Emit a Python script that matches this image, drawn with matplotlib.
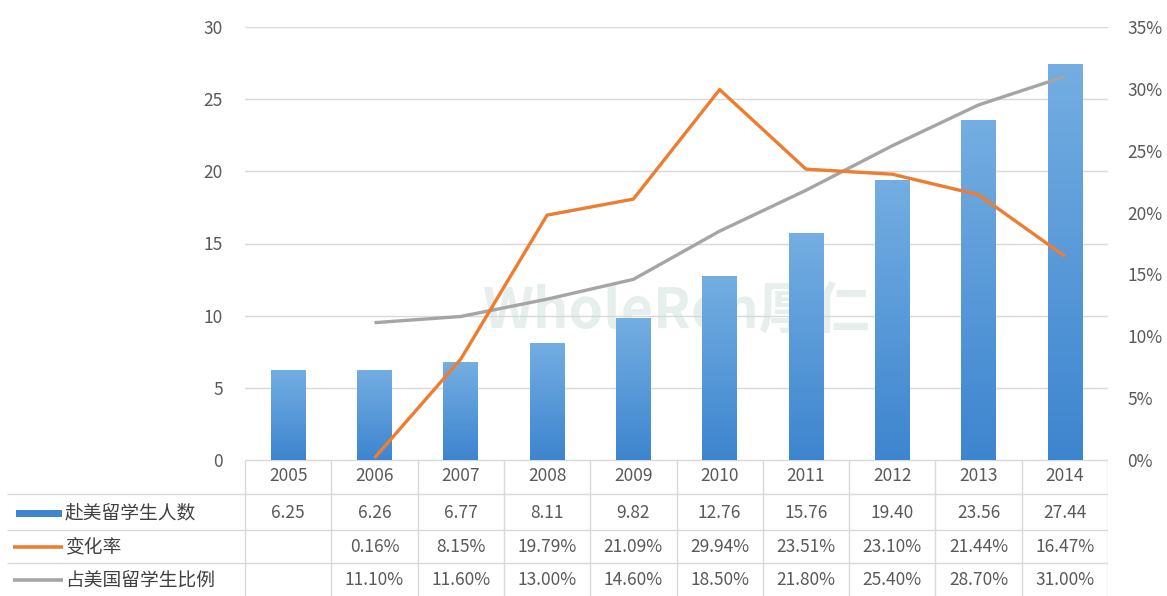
import matplotlib
matplotlib.use("Agg")
import matplotlib.pyplot as plt
import numpy as np
from matplotlib.colors import LinearSegmentedColormap
from matplotlib.ticker import FuncFormatter

plt.rcParams['font.family'] = ['Noto Sans CJK SC', 'DejaVu Sans']

years = ['2005', '2006', '2007', '2008', '2009', '2010', '2011', '2012', '2013', '2014']
students = [6.25, 6.26, 6.77, 8.11, 9.82, 12.76, 15.76, 19.40, 23.56, 27.44]
change_rate = [None, 0.16, 8.15, 19.79, 21.09, 29.94, 23.51, 23.10, 21.44, 16.47]
share = [None, 11.10, 11.60, 13.00, 14.60, 18.50, 21.80, 25.40, 28.70, 31.00]
series_names = ['赴美留学生人数', '变化率', '占美国留学生比例']
left_ticks = [0, 5, 10, 15, 20, 25, 30]
right_ticks = [0, 5, 10, 15, 20, 25, 30, 35]

W, H = 1167, 596
fig = plt.figure(figsize=(W / 100, H / 100), dpi=100)
fig.patch.set_facecolor('white')

TXT = '#595959'
GRID = '#d9d9d9'
BLUE_DARK = '#3d85cf'
BLUE_LIGHT = '#74aee2'
ORANGE = '#ED7D31'
GRAY = '#A5A5A5'

# pixel layout
px_left, px_right = 245, 1108
px_top, px_bottom = 27, 460
ax = fig.add_axes([px_left / W, 1 - px_bottom / H, (px_right - px_left) / W, (px_bottom - px_top) / H])
x = np.arange(len(years))
for s in ax.spines.values():
    s.set_visible(False)
ax.set_yticks(left_ticks)
ax.tick_params(axis='y', length=0, labelsize=12.5, labelcolor=TXT, pad=16)
ax.set_xticks([])
ax.yaxis.grid(True, color=GRID, lw=1)
ax.set_axisbelow(True)

# watermark
ax.text(0.5, 0.34, 'WholeRen厚仁', transform=ax.transAxes, ha='center', va='center',
        fontsize=40, fontweight='bold', style='italic', color='#c9dcd3', alpha=0.45, zorder=1)

bars = ax.bar(x, students, width=0.4, color=BLUE_DARK, zorder=2)
cmap = LinearSegmentedColormap.from_list('bg', [BLUE_DARK, BLUE_LIGHT])
grad = np.linspace(0, 1, 256).reshape(-1, 1)
for b in bars:
    bx, by, bw, bh = b.get_x(), b.get_y(), b.get_width(), b.get_height()
    im = ax.imshow(grad, extent=[bx, bx + bw, by, by + bh], origin='lower', aspect='auto',
                   cmap=cmap, zorder=2.5)
    im.set_clip_path(b)
ax.set_xlim(-0.5, len(years) - 0.5)
ax.set_ylim(0, 30)

ax2 = ax.twinx()
ax2.set_ylim(0, 35)
for s in ax2.spines.values():
    s.set_visible(False)
ax2.set_yticks(right_ticks)
ax2.yaxis.set_major_formatter(FuncFormatter(lambda v, p: f'{int(v)}%'))
ax2.tick_params(axis='y', length=0, labelsize=12.5, labelcolor=TXT, pad=14)
cx = [i for i, v in enumerate(change_rate) if v is not None]
cv = [v for v in change_rate if v is not None]
sx = [i for i, v in enumerate(share) if v is not None]
sv = [v for v in share if v is not None]
ax2.plot(sx, sv, color=GRAY, lw=2.4, zorder=3, solid_capstyle='butt')
ax2.plot(cx, cv, color=ORANGE, lw=2.4, zorder=4, solid_capstyle='butt')

# data table
px_tl = 7
tx = fig.add_axes([px_tl / W, 0, (px_right - px_tl) / W, 1 - px_bottom / H])
unit = (px_right - px_left) / len(years)
x0 = -0.5 - (px_left - px_tl) / unit
tx.set_xlim(x0, len(years) - 0.5)
tx.set_ylim(H, px_bottom)
tx.axis('off')

def dx(px):
    return x0 + (px - px_tl) / unit

row_lines = [460, 494, 530, 563]
row_centers = [476, 513, 547, 580]
tx.hlines(row_lines[0], -0.5, len(years) - 0.5, color=GRID, lw=1)
for yl in row_lines[1:]:
    tx.hlines(yl, x0, len(years) - 0.5, color=GRID, lw=1)
for i in range(len(years) + 1):
    tx.vlines(i - 0.5, row_lines[0], H, color=GRID, lw=1)

for i, yr in enumerate(years):
    tx.text(i, row_centers[0], yr, ha='center', va='center', fontsize=12.5, color=TXT)
    tx.text(i, row_centers[1], f'{students[i]:.2f}', ha='center', va='center', fontsize=12.5, color=TXT)
    if change_rate[i] is not None:
        tx.text(i, row_centers[2], f'{change_rate[i]:.2f}%', ha='center', va='center', fontsize=12.5, color=TXT)
    if share[i] is not None:
        tx.text(i, row_centers[3], f'{share[i]:.2f}%', ha='center', va='center', fontsize=12.5, color=TXT)

# legend keys + names
tx.add_patch(plt.Rectangle((dx(16), row_centers[1] - 3.5), dx(62) - dx(16), 7, color=BLUE_DARK, lw=0))
tx.plot([dx(13), dx(63)], [row_centers[2], row_centers[2]], color=ORANGE, lw=2.6, solid_capstyle='butt')
tx.plot([dx(13), dx(63)], [row_centers[3], row_centers[3]], color=GRAY, lw=2.6, solid_capstyle='butt')
for name, yc in zip(series_names, row_centers[1:]):
    tx.text(dx(65), yc, name, ha='left', va='center', fontsize=13.5, color='#404040')

fig.savefig('out.png', dpi=100, facecolor='white')
